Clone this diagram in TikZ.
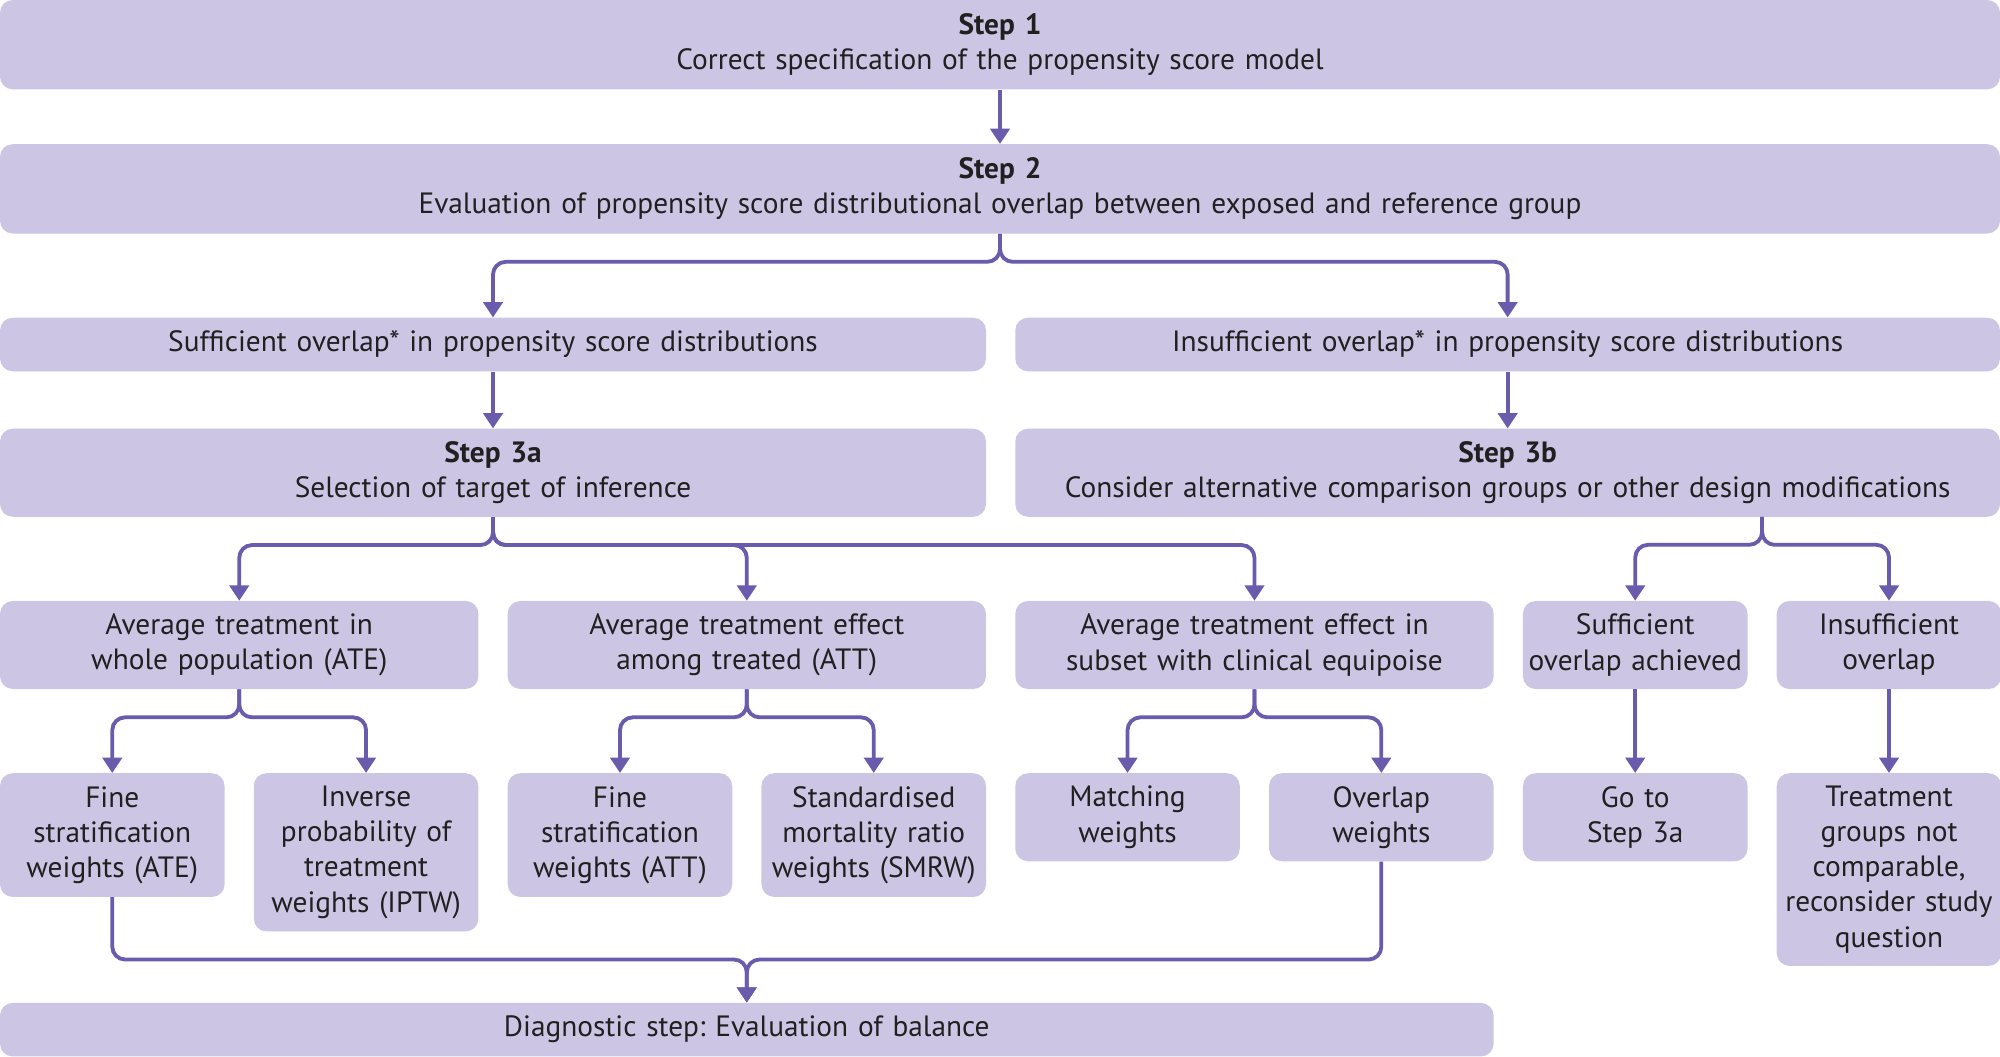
\documentclass[tikz,border=0pt]{standalone}
\usepackage{fontspec}
\setmainfont{PT Sans}
\usetikzlibrary{arrows.meta}
\definecolor{boxfill}{HTML}{CCC6E4}
\definecolor{linkcol}{HTML}{6A5BAD}
\definecolor{textcol}{HTML}{231F20}
\frenchspacing

\begin{document}
\begin{tikzpicture}[x=1pt, y=-1pt, >={Triangle[width=15pt, length=12pt]},
    stepbox/.style 2 args={fill=boxfill, rounded corners=10pt, inner sep=0pt,
        align=center, text=textcol, font=\fontsize{23}{27.5}\selectfont,
        minimum width=#1, text width=#1, minimum height=#2},
    link/.style={draw=linkcol, line width=3pt, rounded corners=10pt}]
    \useasboundingbox (0, 0) rectangle (1567.5, 828);

    % steps 1 and 2
    \node [stepbox={1567.5pt}{70pt}] (step1) at (783.75, 35)
        {\textbf{Step 1}\\Correct specification of the propensity score model};
    \node [stepbox={1567.5pt}{70pt}] (step2) at (783.75, 148)
        {\textbf{Step 2}\\Evaluation of propensity score distributional overlap between exposed and reference group};

    % overlap
    \node [stepbox={772.8pt}{42pt}] (suff) at (386.4, 270)
        {Sufficient overlap* in propensity score distributions};
    \node [stepbox={771.8pt}{42pt}] (insuff) at (1181.6, 270)
        {Insufficient overlap* in propensity score distributions};

    % steps 3a and 3b
    \node [stepbox={772.8pt}{69pt}] (step3a) at (386.4, 370.5)
        {\textbf{Step 3a}\\Selection of target of inference};
    \node [stepbox={771.8pt}{69pt}] (step3b) at (1181.6, 370.5)
        {\textbf{Step 3b}\\Consider alternative comparison groups or other design modifications};

    % targets
    \node [stepbox={374.9pt}{69pt}] (ate) at (187.5, 505.5)
        {Average treatment in\\whole population (ATE)};
    \node [stepbox={374.9pt}{69pt}] (att) at (585.3, 505.5)
        {Average treatment effect\\among treated (ATT)};
    \node [stepbox={374.9pt}{69pt}] (equi) at (983.2, 505.5)
        {Average treatment effect in\\subset with clinical equipoise};
    \node [stepbox={176pt}{69pt}] (achieved) at (1281.6, 505.5)
        {Sufficient\\overlap achieved};
    \node [stepbox={176pt}{69pt}] (notach) at (1480.5, 505.5)
        {Insufficient\\overlap};

    % weights
    \node [stepbox={176pt}{97pt}] (fineate) at (88, 654.5)
        {Fine\\stratification\\weights (ATE)};
    \node [stepbox={176pt}{124pt}] (iptw) at (286.9, 668)
        {Inverse\\probability of\\treatment\\weights (IPTW)};
    \node [stepbox={176pt}{97pt}] (fineatt) at (485.9, 654.5)
        {Fine\\stratification\\weights (ATT)};
    \node [stepbox={176pt}{97pt}] (smrw) at (684.8, 654.5)
        {Standardised\\mortality ratio\\weights (SMRW)};
    \node [stepbox={176pt}{69pt}] (matching) at (883.7, 640.5)
        {Matching\\weights};
    \node [stepbox={176pt}{69pt}] (overlap) at (1082.6, 640.5)
        {Overlap\\weights};
    \node [stepbox={176pt}{69pt}] (goto) at (1281.6, 640.5)
        {Go to\\Step 3a};
    \node [stepbox={176pt}{151pt}] (notcomp) at (1480.5, 681.5)
        {Treatment\\groups not\\comparable,\\reconsider study\\question};

    % diagnostic
    \node [stepbox={1170.6pt}{42pt}] (diag) at (585.3, 807)
        {Diagnostic step: Evaluation of balance};
    \coordinate (merge) at (585.3, 752);
    \coordinate (fork3b) at (1381, 405);

    %% connectors
    \draw [link, ->] (step1) -- (step2);
    \draw [link, ->] (step2.south) --++ (0, 22) -| (suff.north);
    \draw [link, ->] (step2.south) --++ (0, 22) -| (insuff.north);
    \draw [link, ->] (suff) -- (step3a);
    \draw [link, ->] (insuff) -- (step3b);
    \foreach \t in {ate, att, equi} {
        \draw [link, ->] (step3a.south) --++ (0, 22) -| (\t.north);
    }
    \foreach \t in {achieved, notach} {
        \draw [link, ->] (fork3b) --++ (0, 22) -| (\t.north);
    }
    \foreach \p/\a/\b in {ate/fineate/iptw, att/fineatt/smrw, equi/matching/overlap} {
        \draw [link, ->] (\p.south) --++ (0, 22) -| (\a.north);
        \draw [link, ->] (\p.south) --++ (0, 22) -| (\b.north);
    }
    \draw [link, ->] (achieved) -- (goto);
    \draw [link, ->] (notach) -- (notcomp);
    \draw [link, ->] (fineate.south) |- (merge) -- (diag.north);
    \draw [link, ->] (overlap.south) |- (merge) -- (diag.north);
\end{tikzpicture}
\end{document}
